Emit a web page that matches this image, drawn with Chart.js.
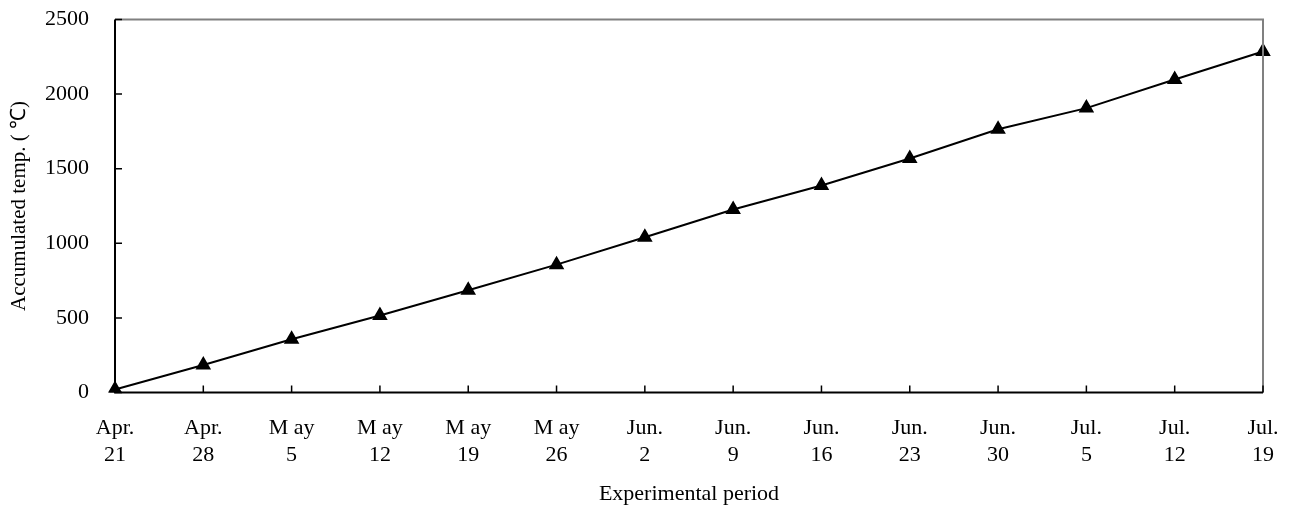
<!DOCTYPE html>
<html>
<head>
<meta charset="utf-8">
<script src="https://cdn.jsdelivr.net/npm/chart.js@4"></script>
<style>
  html, body { margin: 0; padding: 0; background: #fff; }
  #wrap { width: 1290px; height: 509px; }
</style>
</head>
<body>
<div id="wrap"><canvas id="tempChart"></canvas></div>
<script>
// Sampling dates (two-line tick labels)
const months = ['Apr.', 'Apr.', 'M ay', 'M ay', 'M ay', 'M ay', 'Jun.', 'Jun.', 'Jun.', 'Jun.', 'Jun.', 'Jul.', 'Jul.', 'Jul.'];
const days = ['21', '28', '5', '12', '19', '26', '2', '9', '16', '23', '30', '5', '12', '19'];

// Accumulated temperature (°C)
const accumTemp = [20, 184, 357, 516, 685, 857, 1041, 1227, 1387, 1568, 1764, 1906, 2098, 2285];

const yTicks = [0, 500, 1000, 1500, 2000, 2500];

const labels = months.map((m, i) => [m, days[i]]);
const serif = '"Liberation Serif", "Times New Roman", serif';

// frame + inward tick marks, drawn from the scales
const framePlugin = {
    id: 'frame',
    afterDraw(chart) {
        const { ctx, chartArea: a, scales } = chart;
        ctx.save();
        ctx.lineWidth = 2;
        ctx.strokeStyle = '#808080';
        ctx.beginPath();
        ctx.moveTo(a.left, a.top);
        ctx.lineTo(a.right, a.top);
        ctx.lineTo(a.right, a.bottom);
        ctx.stroke();
        ctx.strokeStyle = '#000';
        ctx.beginPath();
        ctx.moveTo(a.left, a.top);
        ctx.lineTo(a.left, a.bottom);
        ctx.lineTo(a.right, a.bottom);
        ctx.stroke();
        ctx.lineWidth = 1.5;
        ctx.beginPath();
        yTicks.forEach(v => {
            const y = scales.y.getPixelForValue(v);
            ctx.moveTo(a.left, y);
            ctx.lineTo(a.left + 7, y);
        });
        labels.forEach((l, i) => {
            const x = scales.x.getPixelForValue(i);
            ctx.moveTo(x, a.bottom);
            ctx.lineTo(x, a.bottom - 7);
        });
        ctx.stroke();
        ctx.restore();
    }
};

const ctx = document.getElementById('tempChart').getContext('2d');
new Chart(ctx, {
    type: 'line',
    data: {
        labels: labels,
        datasets: [{
            data: accumTemp,
            borderColor: '#000',
            backgroundColor: '#000',
            borderWidth: 2,
            pointStyle: 'triangle',
            pointRadius: 7,
            pointHoverRadius: 7,
            tension: 0
        }]
    },
    options: {
        responsive: true,
        maintainAspectRatio: false,
        animation: false,
        layout: { padding: { top: 19.5, right: 27, left: 0, bottom: 0 } },
        plugins: {
            legend: { display: false },
            tooltip: { enabled: false }
        },
        scales: {
            x: {
                offset: false,
                grid: { display: false, drawTicks: false },
                border: { display: false },
                ticks: {
                    color: '#000',
                    padding: 22,
                    maxRotation: 0,
                    autoSkip: false,
                    font: { family: serif, size: 22, lineHeight: 1.23 }
                },
                title: {
                    display: true,
                    text: 'Experimental period',
                    color: '#000',
                    font: { family: serif, size: 22 },
                    padding: { top: 0, bottom: 2 }
                },
                afterFit(scale) {
                    scale.height = 116.5;
                    scale.paddingLeft = 0;
                    scale.paddingRight = 0;
                }
            },
            y: {
                min: 0,
                max: 2500,
                grid: { display: false, drawTicks: false },
                border: { display: false },
                afterBuildTicks(scale) { scale.ticks = yTicks.map(v => ({ value: v })); },
                ticks: {
                    color: '#000',
                    padding: 26,
                    font: { family: serif, size: 22 },
                    callback: v => String(v)
                },
                title: {
                    display: true,
                    text: 'Accumulated temp. ( ℃)',
                    color: '#000',
                    font: { family: serif, size: 21 },
                    padding: { top: 7, bottom: 0 }
                },
                afterFit(scale) {
                    scale.width = 115;
                    scale.paddingTop = 0;
                    scale.paddingBottom = 0;
                }
            }
        }
    },
    plugins: [framePlugin]
});
</script>
</body>
</html>
